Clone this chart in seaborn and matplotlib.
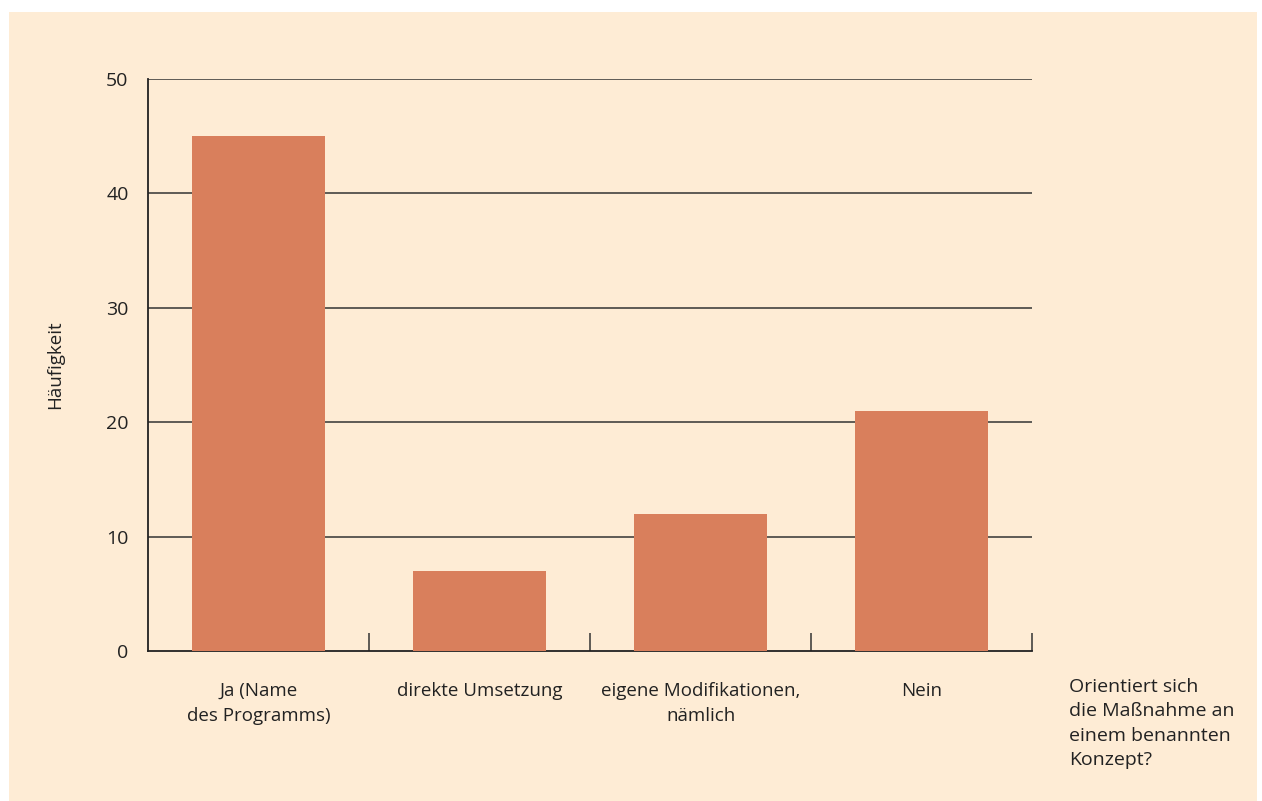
import pandas as pd
import seaborn as sns
import matplotlib.pyplot as plt
from matplotlib.patches import Rectangle

# Data
categories = ["Ja (Name\ndes Programms)", "direkte Umsetzung",
              "eigene Modifikationen,\nnämlich", "Nein"]
counts = [45, 7, 12, 21]
yticks = [0, 10, 20, 30, 40, 50]

df = pd.DataFrame({"Kategorie": categories, "Häufigkeit": counts})

sns.set_theme(style="ticks")
plt.rcParams["font.family"] = ["Open Sans", "DejaVu Sans"]

bg = "#feecd5"
bar_color = "#d97f5c"
text_color = "#222222"

fig = plt.figure(figsize=(12.62, 8.01), dpi=100)
fig.patch.set_facecolor("white")
fig.patches.append(Rectangle((9 / 1262, 0), 1248 / 1262, 789 / 801,
                             transform=fig.transFigure, facecolor=bg,
                             edgecolor="none", zorder=-10))

ax = fig.add_axes([148 / 1262, 150 / 801, 884 / 1262, 572 / 801])
ax.set_facecolor(bg)
ax.patch.set_alpha(0)

sns.barplot(data=df, x="Kategorie", y="Häufigkeit", color=bar_color,
            saturation=1, width=0.6, ax=ax, zorder=3,
            edgecolor="none", linewidth=0)

ax.set_xlim(-0.5, 3.5)
ax.set_ylim(0, 50)
ax.set_yticks(yticks)
ax.set_yticklabels([str(t) for t in yticks], fontsize=14, color=text_color)
ax.tick_params(axis="y", length=0, pad=14)

# horizontal grid lines
for t in yticks[1:]:
    ax.axhline(t, color="#333333", lw=1.1, zorder=1)

# category boundary ticks (major) and labels (minor)
ax.set_xticks([0.5, 1.5, 2.5, 3.5])
ax.set_xticklabels([])
ax.tick_params(axis="x", which="major", direction="in", length=13,
               width=1.1, color="#333333")
ax.set_xticks(range(len(categories)), minor=True)
ax.set_xticklabels(categories, minor=True, fontsize=13.5,
                   color=text_color, linespacing=1.5)
ax.tick_params(axis="x", which="minor", length=0, pad=22)

ax.set_xlabel("")
ax.set_ylabel("Häufigkeit", fontsize=13.5, color=text_color, labelpad=30)

sns.despine(ax=ax, top=True, right=True)
ax.spines["left"].set_color("#222222")
ax.spines["left"].set_linewidth(1.3)
ax.spines["bottom"].set_color("#222222")
ax.spines["bottom"].set_linewidth(1.3)
ax.spines["bottom"].set_zorder(1)

fig.text(1069 / 1262, 1 - 678 / 801,
         "Orientiert sich\ndie Maßnahme an\neinem benannten\nKonzept?",
         ha="left", va="top", fontsize=14, color=text_color, linespacing=1.45)

fig.savefig("out.png", dpi=100, facecolor=fig.get_facecolor())
